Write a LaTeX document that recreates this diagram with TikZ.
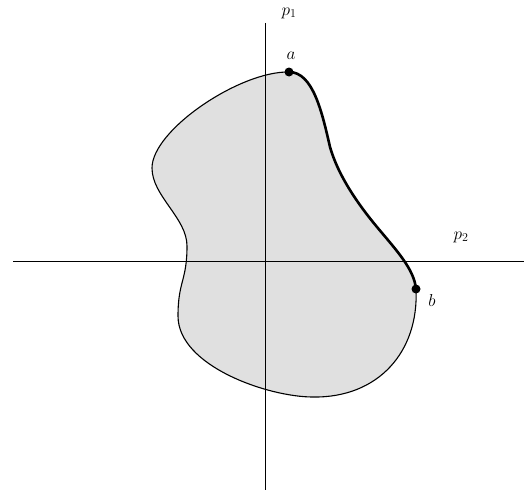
\documentclass[tikz,border=0pt]{standalone}
\usepackage{tikz}
\definecolor{regionfill}{gray}{0.88}
\newcommand{\arcpart}{(289,72) .. controls (313,72) and (322,112) .. (330,147)
  .. controls (338,175) and (357,203) .. (377,227)
  .. controls (397,251) and (414,269) .. (416,289)}
\newcommand{\restpart}{.. controls (419,352) and (378,398) .. (313,397)
  .. controls (268,397) and (178,366) .. (178,316)
  .. controls (178,281) and (187,281) .. (187,246)
  .. controls (187,218) and (152,196) .. (152,168)
  .. controls (152,130) and (240,71) .. cycle}
\begin{document}
\begin{tikzpicture}[x=1pt,y=-1pt,
  axis/.style={line width=0.9pt},
  outline/.style={line width=1.1pt},
  arcline/.style={line width=2.6pt},
  dot/.style={circle,fill=black,inner sep=0pt,minimum size=9pt},
  lab/.style={font=\LARGE}]
\useasboundingbox (0,0) rectangle (526,495);
\fill[regionfill] \arcpart \restpart;
\coordinate (ytop) at (265,23);
\coordinate (ybot) at (265,490);
\coordinate (xl) at (13,261);
\coordinate (xr) at (524,261);
\draw[axis] (ytop) -- (ybot);
\draw[axis] (xl) -- (xr);
\draw[outline] \arcpart \restpart;
\draw[arcline] \arcpart;
\node[dot] (a) at (289,72) {};
\node[dot] (b) at (416,289) {};
\node[lab] (la) at (291,56) {$a$};
\node[lab] (lb) at (432,300) {$b$};
\node[lab] (p1) at (289,13) {$p_1$};
\node[lab] (p2) at (461,237) {$p_2$};
\end{tikzpicture}
\end{document}
